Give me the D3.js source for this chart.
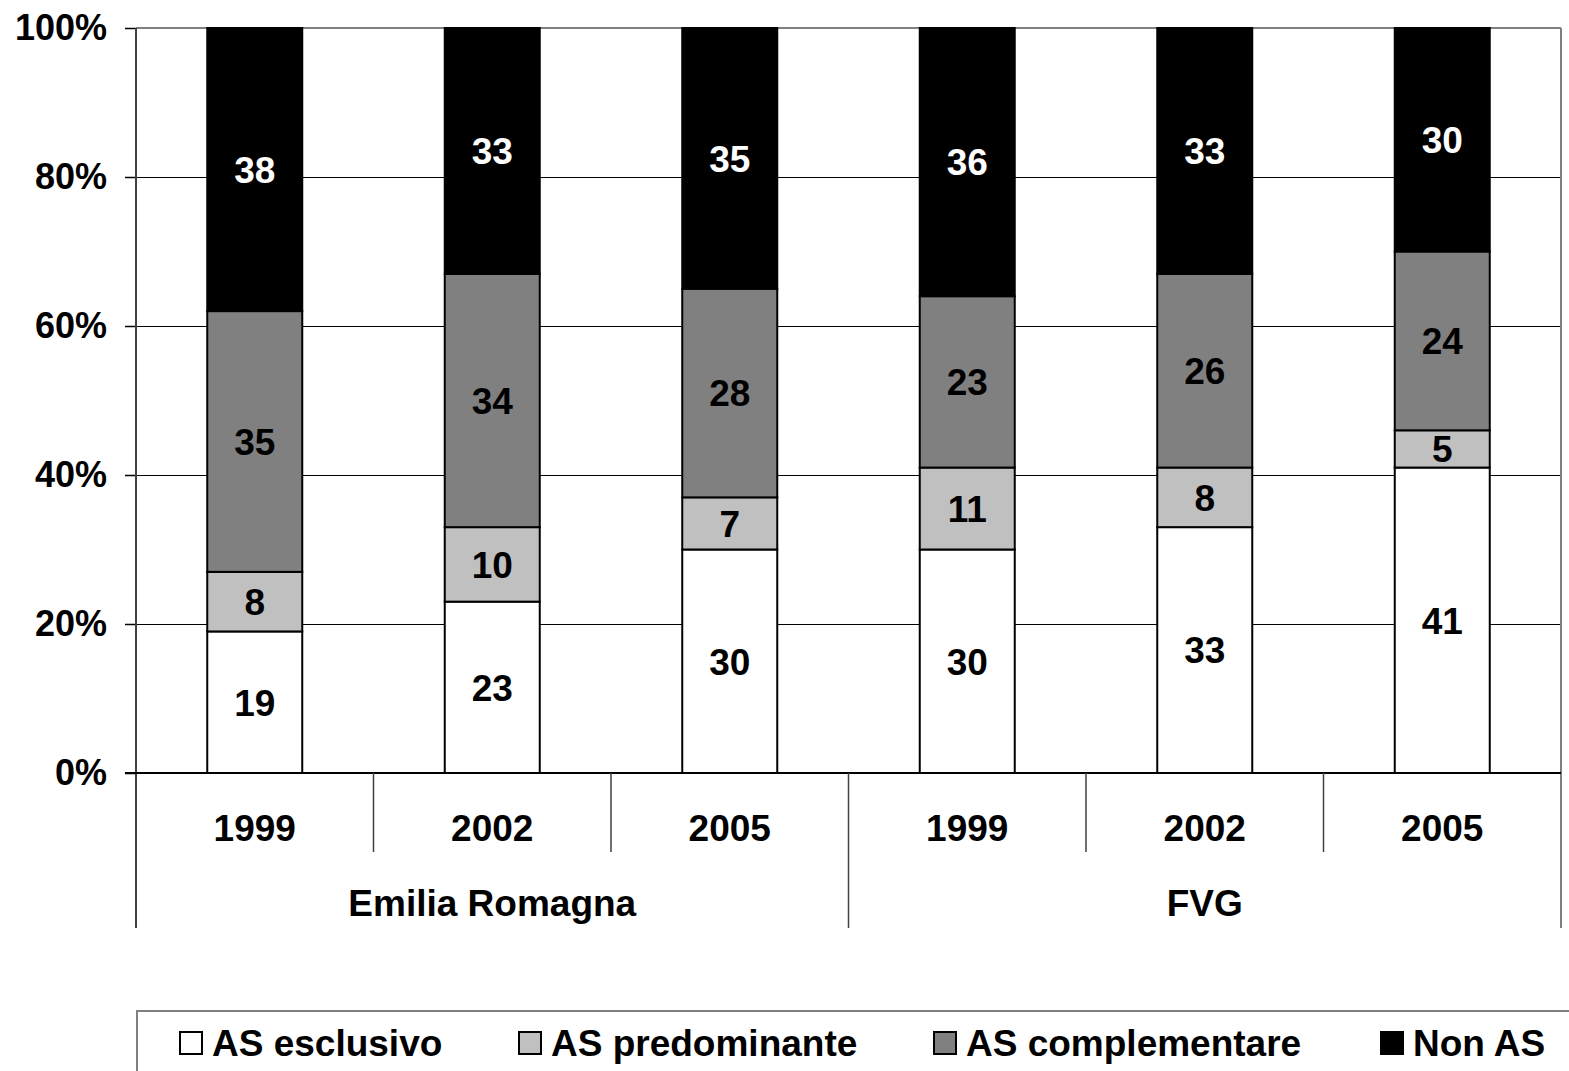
<!DOCTYPE html>
<html>
<head>
<meta charset="utf-8">
<script src="https://cdn.jsdelivr.net/npm/d3@7"></script>
<style>
  html, body { margin: 0; padding: 0; background: #fff; }
  svg { display: block; font-family: "Liberation Sans", Arial, sans-serif; font-weight: bold; }
</style>
</head>
<body>
<svg id="chart" width="1569" height="1071"></svg>
<script>
// ---- data ----
const years = ["1999", "2002", "2005", "1999", "2002", "2005"];
const regions = ["Emilia Romagna", "FVG"];
const seriesNames = ["AS esclusivo", "AS predominante", "AS complementare", "Non AS"];
const asEsclusivo     = [19, 23, 30, 30, 33, 41];
const asPredominante  = [8, 10, 7, 11, 8, 5];
const asComplementare = [35, 34, 28, 23, 26, 24];
const nonAS           = [38, 33, 35, 36, 33, 30];
const yTicks = [0, 20, 40, 60, 80, 100];
const colors = ["#FFFFFF", "#C0C0C0", "#808080", "#000000"];
const labelColors = ["#000", "#000", "#000", "#fff"];

(function () {
const seriesValues = [asEsclusivo, asPredominante, asComplementare, nonAS];
const rows = years.map((yr, i) => {
  const r = { idx: i };
  seriesNames.forEach((s, j) => r[s] = seriesValues[j][i]);
  return r;
});

const svg = d3.select("#chart");
const pL = 136, pR = 1561, pT = 28, pB = 773;
const FS = 37, FSY = 36;

const x = d3.scaleBand().domain(d3.range(years.length)).range([pL, pR]).paddingInner(0.6).paddingOuter(0.3);
const step = (pR - pL) / years.length;
const y = d3.scaleLinear().domain([0, 100]).range([pB, pT]);

// gridlines
svg.append("g").selectAll("line").data(yTicks.filter(t => t > 0 && t < 100)).join("line")
  .attr("x1", pL).attr("x2", pR)
  .attr("y1", d => y(d) + 0.5).attr("y2", d => y(d) + 0.5)
  .attr("stroke", "#000").attr("stroke-width", 1);

// plot border (top and right) gray
svg.append("line").attr("x1", pL).attr("x2", pR).attr("y1", pT).attr("y2", pT)
  .attr("stroke", "#808080").attr("stroke-width", 2);
svg.append("line").attr("x1", pR).attr("x2", pR).attr("y1", pT).attr("y2", 928)
  .attr("stroke", "#808080").attr("stroke-width", 2);

// y axis
const yAxis = d3.axisLeft(y).tickValues(yTicks).tickFormat(d => d + "%").tickSize(11).tickPadding(18);
const ya = svg.append("g").attr("transform", `translate(${pL},0)`).call(yAxis);
ya.select(".domain").remove();
ya.selectAll(".tick line").attr("stroke", "#000").attr("stroke-width", 1.5);
ya.selectAll(".tick text").attr("font-size", FSY).attr("font-weight", "bold")
  .attr("fill", "#000").attr("font-family", "Liberation Sans, Arial, sans-serif");
svg.append("line").attr("x1", pL).attr("x2", pL).attr("y1", pT).attr("y2", 928)
  .attr("stroke", "#404040").attr("stroke-width", 2);

// stacked bars
const stack = d3.stack().keys(seriesNames)(rows);
const layers = svg.append("g").selectAll("g").data(stack).join("g");
layers.each(function(layer, li) {
  d3.select(this).selectAll("rect").data(layer).join("rect")
    .attr("x", d => x(d.data.idx))
    .attr("width", x.bandwidth())
    .attr("y", d => y(d[1]))
    .attr("height", d => y(d[0]) - y(d[1]))
    .attr("fill", colors[li])
    .attr("stroke", "#000").attr("stroke-width", 2);
});
const labels = svg.append("g").selectAll("g").data(stack).join("g");
labels.each(function(layer, li) {
  d3.select(this).selectAll("text").data(layer).join("text")
    .attr("x", d => x(d.data.idx) + x.bandwidth() / 2)
    .attr("y", d => (y(d[0]) + y(d[1])) / 2)
    .attr("dy", "0.36em")
    .attr("text-anchor", "middle")
    .attr("font-size", FS)
    .attr("fill", labelColors[li])
    .text(d => d[1] - d[0]);
});

// x axis baseline
svg.append("line").attr("x1", pL - 11).attr("x2", pR).attr("y1", pB).attr("y2", pB)
  .attr("stroke", "#000").attr("stroke-width", 2);

// category separators
const seps = d3.range(1, years.length);
svg.append("g").selectAll("line").data(seps).join("line")
  .attr("x1", d => pL + d * step).attr("x2", d => pL + d * step)
  .attr("y1", pB).attr("y2", d => d % 3 === 0 ? 928 : 852)
  .attr("stroke", "#404040").attr("stroke-width", 1.5);

// year labels
svg.append("g").selectAll("text").data(years).join("text")
  .attr("x", (d, i) => x(i) + x.bandwidth() / 2)
  .attr("y", 841)
  .attr("text-anchor", "middle").attr("font-size", FS).attr("fill", "#000")
  .text(d => d);

// region labels
svg.append("g").selectAll("text").data(regions).join("text")
  .attr("x", (d, i) => pL + (i * 3 + 1.5) * step)
  .attr("y", 916)
  .attr("text-anchor", "middle").attr("font-size", FS).attr("fill", "#000")
  .text(d => d);

// legend
svg.append("line").attr("x1", pL).attr("x2", 1569).attr("y1", 1011).attr("y2", 1011)
  .attr("stroke", "#808080").attr("stroke-width", 2);
svg.append("line").attr("x1", pL + 1).attr("x2", pL + 1).attr("y1", 1011).attr("y2", 1071)
  .attr("stroke", "#808080").attr("stroke-width", 2);
const legendX = [180, 519, 934, 1381];
const lg = svg.append("g").selectAll("g").data(seriesNames).join("g")
  .attr("transform", (d, i) => `translate(${legendX[i]},1032)`);
lg.append("rect").attr("x", 0).attr("y", 0).attr("width", 22).attr("height", 22)
  .attr("fill", (d, i) => colors[i]).attr("stroke", "#000").attr("stroke-width", 2);
lg.append("text").attr("x", 32).attr("y", 24).attr("font-size", FS).attr("fill", "#000")
  .text(d => d);
})();
</script>
</body>
</html>
